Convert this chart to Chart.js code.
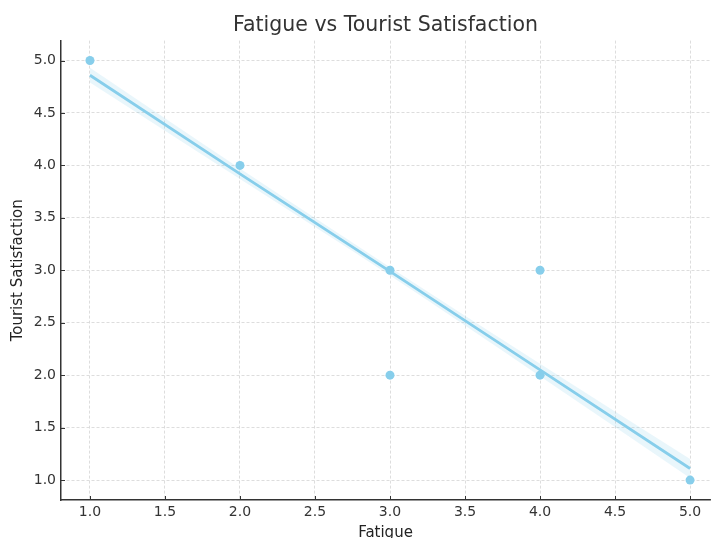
<!DOCTYPE html>
<html>
<head>
<meta charset="utf-8">
<script src="https://cdn.jsdelivr.net/npm/chart.js@4/dist/chart.umd.min.js"></script>
<style>
  body { margin: 0; background: #fff; }
  canvas { display: block; }
</style>
</head>
<body>
<canvas id="myChart" width="711" height="538"></canvas>
<script>
// data
const fatigue = [1, 2, 3, 3, 4, 4, 5];
const satisfaction = [5, 4, 3, 2, 3, 2, 1];

// regression line + confidence band
const fitX = [1, 2, 3, 4, 5];
const fitY = [4.86, 3.92, 2.99, 2.05, 1.11];
const bandLow = [4.79, 3.87, 2.95, 1.99, 1.02];
const bandHigh = [4.93, 3.97, 3.03, 2.11, 1.20];

const xTicks = [1.0, 1.5, 2.0, 2.5, 3.0, 3.5, 4.0, 4.5, 5.0];
const yTicks = [1.0, 1.5, 2.0, 2.5, 3.0, 3.5, 4.0, 4.5, 5.0];

const blue = '#87CEEB';
const font = "'DejaVu Sans', sans-serif";

function pts(xs, ys){
  return xs.map((x, i) => ({x: x, y: ys[i]}));
}

// matplotlib style inward ticks
const innerTicks = {
  id: 'innerTicks',
  afterDraw(chart){
    const c = chart.ctx;
    const xs = chart.scales.x, ys = chart.scales.y;
    const area = chart.chartArea;
    c.save();
    c.strokeStyle = '#333';
    c.lineWidth = 1;
    xs.ticks.forEach(t => {
      const px = Math.round(xs.getPixelForValue(t.value)) + 0.5;
      c.beginPath(); c.moveTo(px, area.bottom); c.lineTo(px, area.bottom - 4); c.stroke();
    });
    ys.ticks.forEach(t => {
      const py = Math.round(ys.getPixelForValue(t.value)) + 0.5;
      c.beginPath(); c.moveTo(area.left, py); c.lineTo(area.left + 4, py); c.stroke();
    });
    c.restore();
  }
};

const ctx = document.getElementById('myChart').getContext('2d');
new Chart(ctx, {
  type: 'scatter',
  data: {
    datasets: [
      {
        label: 'points',
        data: pts(fatigue, satisfaction),
        backgroundColor: blue,
        borderColor: blue,
        pointRadius: 4.5,
        pointBorderWidth: 0
      },
      {
        label: 'fit',
        data: pts(fitX, fitY),
        showLine: true,
        borderColor: blue,
        borderWidth: 2.8,
        pointRadius: 0
      },
      {
        label: 'low',
        data: pts(fitX, bandLow),
        showLine: true,
        borderWidth: 0,
        borderColor: 'rgba(0,0,0,0)',
        pointRadius: 0,
        cubicInterpolationMode: 'monotone'
      },
      {
        label: 'high',
        data: pts(fitX, bandHigh),
        showLine: true,
        borderWidth: 0,
        borderColor: 'rgba(0,0,0,0)',
        backgroundColor: 'rgba(135,206,235,0.18)',
        fill: '-1',
        pointRadius: 0,
        cubicInterpolationMode: 'monotone'
      }
    ]
  },
  options: {
    responsive: false,
    animation: false,
    layout: { autoPadding: false, padding: { right: 1 } },
    plugins: {
      legend: { display: false },
      tooltip: { enabled: false },
      title: {
        display: true,
        fullSize: false,   // centre over the plot area like matplotlib
        text: 'Fatigue vs Tourist Satisfaction',
        color: '#333',
        font: { family: font, size: 20.5, weight: 'normal' },
        padding: { top: 13, bottom: 3 }
      }
    },
    scales: {
      x: {
        type: 'linear',
        min: 0.807,
        max: 5.133,
        afterBuildTicks: s => { s.ticks = xTicks.map(v => ({value: v})); },
        afterFit: s => { s.height = 38; s.paddingLeft = 0; s.paddingRight = 0; },
        ticks: {
          color: '#333',
          font: { family: font, size: 14 },
          padding: 4,
          maxRotation: 0,
          callback: v => Number(v).toFixed(1)
        },
        grid: {
          color: '#d4d4d4',
          lineWidth: 0.8,
          drawTicks: false,
          tickLength: 0
        },
        border: { color: '#333', width: 1.5, dash: [3, 2] },
        title: {
          display: true,
          text: 'Fatigue',
          color: '#222',
          font: { family: font, size: 15 },
          padding: { top: 0, bottom: -4 }
        }
      },
      y: {
        type: 'linear',
        min: 0.81,
        max: 5.19,
        afterBuildTicks: s => { s.ticks = yTicks.map(v => ({value: v})); },
        afterFit: s => { s.width = 61; },
        ticks: {
          color: '#333',
          font: { family: font, size: 14 },
          padding: 5,
          callback: v => Number(v).toFixed(1)
        },
        grid: {
          color: '#d4d4d4',
          lineWidth: 0.8,
          drawTicks: false,
          tickLength: 0
        },
        border: { color: '#333', width: 1.5, dash: [3, 2] },
        title: {
          display: true,
          text: 'Tourist Satisfaction',
          color: '#222',
          font: { family: font, size: 15 },
          padding: { top: 9, bottom: 0 }
        }
      }
    }
  },
  plugins: [innerTicks]
});
</script>
</body>
</html>
